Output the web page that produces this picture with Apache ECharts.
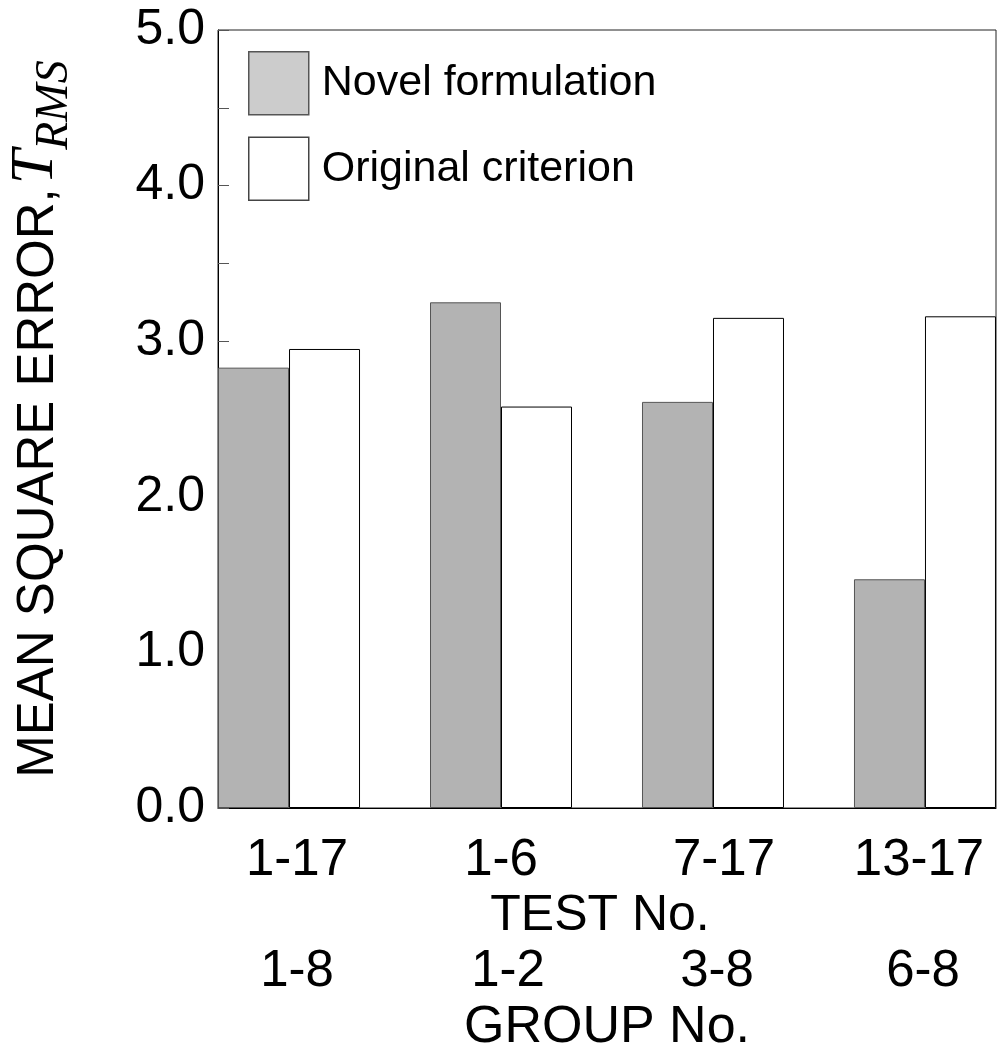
<!DOCTYPE html>
<html>
<head>
<meta charset="utf-8">
<script src="https://cdn.jsdelivr.net/npm/echarts@6/dist/echarts.min.js"></script>
<style>html,body{margin:0;padding:0;background:#fff}#c{width:999px;height:1052px}</style>
</head>
<body>
<div id="c"></div>
<script>
// ---- data ----
var positions = [1, 2, 3, 4];
var testLabels = ['1-17', '1-6', '7-17', '13-17'];
var groupLabels = ['1-8', '1-2', '3-8', '6-8'];
var novel = [2.83, 3.25, 2.61, 1.47];
var original = [2.95, 2.58, 3.15, 3.16];
var seriesNames = ['Novel formulation', 'Original criterion'];
var yTicks = [0, 1, 2, 3, 4, 5];

// ---- style-only label nudges (px) ----
var testShift = [8, 0, 11, -6];
var groupShift = [8, 7, 4, -2];

function richFor(shifts, size) {
  var r = {};
  shifts.forEach(function (d, i) {
    r['s' + i] = {
      fontSize: size, fontFamily: 'Liberation Sans', color: '#000',
      padding: d >= 0 ? [0, 0, 0, 2 * d] : [0, -2 * d, 0, 0]
    };
  });
  return r;
}
function fmt(labels) {
  return function (v) {
    var i = positions.indexOf(Math.round(v));
    return i < 0 ? '' : '{s' + i + '|' + labels[i] + '}';
  };
}

var chart = echarts.init(document.getElementById('c'), null, {renderer: 'canvas'});
var font = 'Liberation Sans';
chart.setOption({
  animation: false,
  backgroundColor: '#fff',
  grid: {left: 218, right: 3, top: 30, bottom: 244, show: true, borderColor: '#222', borderWidth: 1,
         containLabel: false, outerBoundsMode: 'none'},
  legend: {
    orient: 'vertical', left: 248, top: 51, icon: 'rect', padding: 0,
    itemWidth: 60, itemHeight: 63, itemGap: 21,
    textStyle: {fontSize: 43, fontFamily: font, color: '#000', padding: [7, 0, 0, 8]},
    data: [
      {name: seriesNames[0], itemStyle: {color: '#cccccc', borderColor: '#555', borderWidth: 1.5}},
      {name: seriesNames[1], itemStyle: {color: '#ffffff', borderColor: '#444', borderWidth: 1.5}}
    ]
  },
  xAxis: [{
    type: 'value', min: 0.665, max: 4.335,
    axisLine: {show: true, lineStyle: {color: '#000', width: 1}},
    axisTick: {show: false},
    splitLine: {show: false},
    axisLabel: {customValues: positions, formatter: fmt(testLabels), margin: 27, rich: richFor(testShift, 51)},
    name: 'TEST No.', nameLocation: 'middle', nameGap: 78,
    nameTextStyle: {fontSize: 50, fontFamily: font, color: '#000', padding: [0, 0, 0, -14]}
  }, {
    type: 'value', min: 0.665, max: 4.335, position: 'bottom', offset: 115,
    axisLine: {show: false}, axisTick: {show: false}, splitLine: {show: false},
    axisLabel: {customValues: positions, formatter: fmt(groupLabels), margin: 23, rich: richFor(groupShift, 51)},
    name: 'GROUP No.', nameLocation: 'middle', nameGap: 76,
    nameTextStyle: {fontSize: 52, fontFamily: font, color: '#000'}
  }],
  yAxis: {
    type: 'value', min: 0, max: 5, interval: 1,
    axisLine: {show: true, lineStyle: {color: '#000', width: 1}},
    axisTick: {show: true, inside: true, length: 11, lineStyle: {color: '#555'}},
    minorTick: {show: true, splitNumber: 2, length: 11, lineStyle: {color: '#555'}},
    splitLine: {show: false},
    axisLabel: {
      customValues: yTicks, margin: 13, fontSize: 50, fontFamily: font, color: '#000',
      formatter: function (v) { return v.toFixed(1); }
    },
    name: '{n|MEAN SQUARE ERROR,}{t|T}{s|RMS}',
    nameLocation: 'middle', nameGap: 140, nameRotate: 90,
    nameTextStyle: {
      rich: {
        n: {fontSize: 51, fontFamily: font, color: '#000', verticalAlign: 'bottom', padding: [0, 0, 14, 0]},
        t: {fontSize: 62, fontFamily: 'Liberation Serif', fontStyle: 'italic', color: '#000', verticalAlign: 'bottom', padding: [0, 0, 11, 4]},
        s: {fontSize: 46, fontFamily: 'Liberation Serif', fontStyle: 'italic', color: '#000', verticalAlign: 'bottom'}
      }
    }
  },
  series: [{
    name: seriesNames[0], type: 'bar', xAxisIndex: 0, barWidth: 71, barGap: '0%',
    itemStyle: {color: '#b3b3b3', borderColor: '#555', borderWidth: 1},
    data: positions.map(function (p, i) { return [p, novel[i]]; })
  }, {
    name: seriesNames[1], type: 'bar', xAxisIndex: 0, barWidth: 71, barGap: '0%',
    itemStyle: {color: '#ffffff', borderColor: '#000', borderWidth: 1},
    data: positions.map(function (p, i) { return [p, original[i]]; })
  }]
});
</script>
</body>
</html>
